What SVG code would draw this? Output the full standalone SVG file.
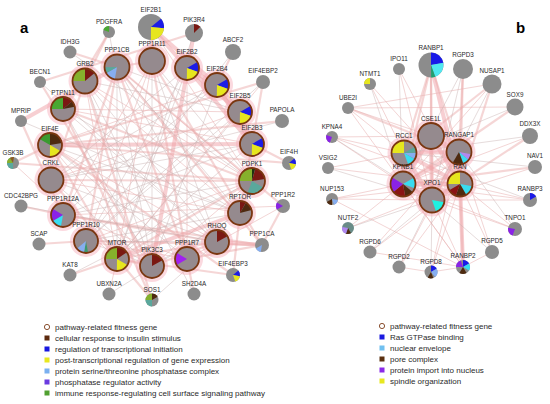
<svg xmlns="http://www.w3.org/2000/svg" width="550" height="404" viewBox="0 0 550 404">
<style>
text{font-family:"Liberation Sans",Arial,sans-serif;fill:#2a2a2a}
.lb{font-size:6.3px;text-anchor:middle}
.lg{font-size:8px}
.pn{font-size:15px;font-weight:bold;fill:#000}
.g{fill:#8c8c8c}
.c{fill:#958a8e}
.ring{fill:none;stroke:#7a3610;stroke-width:1.8}
.glow{fill:#f6aab8;opacity:.45}
.w{fill:none}
.e1{stroke:#eab4b4;stroke-width:1;opacity:.55}
.e2{stroke:#eba6a6;stroke-width:2.2;opacity:.45}
.e3{stroke:#f0a0a6;stroke-width:4;opacity:.5}
.e4{stroke:#c9b2b2;stroke-width:1;opacity:.45}
.lc{fill:#fff;stroke:#8a5030;stroke-width:1}
</style>
<rect width="550" height="404" fill="#fff"/>
<text class="pn" x="20" y="33">a</text>
<text class="pn" x="516" y="33">b</text>
<g id="connectors">
<!-- panel a thick -->
<line class="e3" x1="151" y1="27" x2="187" y2="68"/>
<line class="e3" x1="151" y1="27" x2="217" y2="85"/>
<line class="e3" x1="187" y1="68" x2="217" y2="85"/>
<line class="e3" x1="217" y1="85" x2="240" y2="112"/>
<line class="e3" x1="240" y1="112" x2="252" y2="144"/>
<line class="e3" x1="187" y1="68" x2="240" y2="112"/>
<line class="e3" x1="217" y1="85" x2="252" y2="144"/>
<line class="e3" x1="151" y1="27" x2="152" y2="61"/>
<line class="e3" x1="187" y1="68" x2="252" y2="144"/>
<line class="e3" x1="194" y1="33" x2="152" y2="266"/>
<line class="e3" x1="217" y1="242" x2="262" y2="245"/>
<line class="e3" x1="117" y1="259" x2="240" y2="213"/>
<line class="e3" x1="50" y1="145" x2="252" y2="144"/>
<line class="e3" x1="21" y1="121" x2="117" y2="67"/>
<!-- panel a medium -->
<line class="e2" x1="117" y1="67" x2="63" y2="215"/>
<line class="e2" x1="117" y1="67" x2="86" y2="241"/>
<line class="e2" x1="117" y1="67" x2="187" y2="259"/>
<line class="e2" x1="117" y1="67" x2="152" y2="61"/>
<line class="e2" x1="117" y1="67" x2="283" y2="206"/>
<line class="e2" x1="117" y1="67" x2="262" y2="245"/>
<line class="e2" x1="262" y1="245" x2="63" y2="215"/>
<line class="e2" x1="262" y1="245" x2="86" y2="241"/>
<line class="e2" x1="262" y1="245" x2="187" y2="259"/>
<line class="e2" x1="262" y1="245" x2="283" y2="206"/>
<line class="e2" x1="262" y1="245" x2="152" y2="61"/>
<line class="e2" x1="152" y1="61" x2="187" y2="259"/>
<line class="e2" x1="85" y1="81" x2="63" y2="109"/>
<line class="e2" x1="85" y1="81" x2="152" y2="300"/>
<line class="e2" x1="85" y1="81" x2="51" y2="180"/>
<line class="e2" x1="85" y1="81" x2="109" y2="32"/>
<line class="e2" x1="63" y1="109" x2="109" y2="32"/>
<line class="e2" x1="51" y1="180" x2="152" y2="300"/>
<line class="e2" x1="63" y1="109" x2="152" y2="300"/>
<line class="e2" x1="117" y1="259" x2="152" y2="266"/>
<line class="e2" x1="117" y1="259" x2="217" y2="242"/>
<line class="e2" x1="117" y1="259" x2="50" y2="145"/>
<line class="e2" x1="117" y1="259" x2="252" y2="181"/>
<line class="e2" x1="240" y1="213" x2="252" y2="181"/>
<line class="e2" x1="240" y1="213" x2="233" y2="275"/>
<line class="e2" x1="117" y1="259" x2="233" y2="275"/>
<line class="e2" x1="50" y1="145" x2="263" y2="82"/>
<line class="e2" x1="50" y1="145" x2="233" y2="275"/>
<line class="e2" x1="240" y1="213" x2="263" y2="82"/>
<line class="e2" x1="40" y1="82" x2="152" y2="266"/>
<line class="e2" x1="40" y1="82" x2="194" y2="33"/>
<line class="e2" x1="21" y1="121" x2="63" y2="215"/>
<line class="e2" x1="21" y1="206" x2="63" y2="215"/>
<line class="e2" x1="39" y1="244" x2="86" y2="241"/>
<line class="e2" x1="70" y1="275" x2="117" y2="259"/>
<line class="e2" x1="194" y1="294" x2="187" y2="259"/>
<line class="e2" x1="13" y1="163" x2="50" y2="145"/>
<line class="e2" x1="13" y1="163" x2="252" y2="181"/>
<line class="e2" x1="289" y1="163" x2="50" y2="145"/>
<line class="e2" x1="289" y1="163" x2="252" y2="144"/>
<line class="e2" x1="282" y1="121" x2="50" y2="145"/>
<line class="e2" x1="233" y1="52" x2="217" y2="85"/>
<line class="e2" x1="70" y1="52" x2="117" y2="67"/>
<line class="e2" x1="252" y1="181" x2="63" y2="109"/>
<line class="e2" x1="152" y1="266" x2="217" y2="242"/>
<line class="e2" x1="51" y1="180" x2="252" y2="181"/>
<line class="e2" x1="63" y1="215" x2="217" y2="242"/>
<!-- panel a thin -->
<line class="e1" x1="252" y1="181" x2="85" y2="81"/>
<line class="e1" x1="217" y1="242" x2="50" y2="145"/>
<line class="e1" x1="152" y1="266" x2="252" y2="181"/>
<line class="e1" x1="152" y1="61" x2="117" y2="259"/>
<line class="e1" x1="63" y1="109" x2="252" y2="144"/>
<line class="e1" x1="51" y1="180" x2="240" y2="213"/>
<line class="e1" x1="86" y1="241" x2="252" y2="181"/>
<line class="e1" x1="187" y1="68" x2="187" y2="259"/>
<line class="e1" x1="13" y1="163" x2="117" y2="259"/>
<line class="e1" x1="109" y1="294" x2="117" y2="259"/>
<line class="e1" x1="85" y1="81" x2="240" y2="213"/>
<line class="e1" x1="63" y1="109" x2="240" y2="112"/>
<line class="e1" x1="152" y1="61" x2="63" y2="215"/>
<line class="e1" x1="152" y1="61" x2="86" y2="241"/>
<line class="e1" x1="86" y1="241" x2="187" y2="259"/>
<line class="e1" x1="63" y1="215" x2="187" y2="259"/>
<line class="e1" x1="283" y1="206" x2="187" y2="259"/>
<line class="e1" x1="283" y1="206" x2="63" y2="215"/>
<line class="e1" x1="117" y1="67" x2="252" y2="181"/>
<line class="e1" x1="217" y1="85" x2="50" y2="145"/>
<line class="e1" x1="240" y1="112" x2="51" y2="180"/>
<line class="e1" x1="50" y1="145" x2="152" y2="266"/>
<line class="e1" x1="85" y1="81" x2="117" y2="259"/>
<line class="e1" x1="263" y1="82" x2="117" y2="259"/>
<line class="e1" x1="151" y1="27" x2="252" y2="181"/>
<!-- panel a faint gray -->
<line class="e4" x1="152" y1="61" x2="252" y2="181"/>
<line class="e4" x1="152" y1="61" x2="217" y2="242"/>
<line class="e4" x1="152" y1="61" x2="152" y2="266"/>
<line class="e4" x1="117" y1="67" x2="240" y2="213"/>
<line class="e4" x1="117" y1="67" x2="217" y2="242"/>
<line class="e4" x1="117" y1="67" x2="117" y2="259"/>
<line class="e4" x1="117" y1="67" x2="240" y2="112"/>
<line class="e4" x1="187" y1="68" x2="117" y2="259"/>
<line class="e4" x1="187" y1="68" x2="86" y2="241"/>
<line class="e4" x1="187" y1="68" x2="51" y2="180"/>
<line class="e4" x1="85" y1="81" x2="217" y2="242"/>
<line class="e4" x1="85" y1="81" x2="152" y2="266"/>
<line class="e4" x1="85" y1="81" x2="240" y2="112"/>
<line class="e4" x1="217" y1="85" x2="63" y2="215"/>
<line class="e4" x1="217" y1="85" x2="152" y2="266"/>
<line class="e4" x1="217" y1="85" x2="51" y2="180"/>
<line class="e4" x1="63" y1="109" x2="240" y2="213"/>
<line class="e4" x1="63" y1="109" x2="217" y2="242"/>
<line class="e4" x1="63" y1="109" x2="152" y2="266"/>
<line class="e4" x1="240" y1="112" x2="86" y2="241"/>
<line class="e4" x1="240" y1="112" x2="117" y2="259"/>
<line class="e4" x1="50" y1="145" x2="240" y2="213"/>
<line class="e4" x1="50" y1="145" x2="187" y2="259"/>
<line class="e4" x1="252" y1="144" x2="63" y2="215"/>
<line class="e4" x1="252" y1="144" x2="117" y2="259"/>
<line class="e4" x1="252" y1="144" x2="51" y2="180"/>
<line class="e4" x1="51" y1="180" x2="217" y2="242"/>
<line class="e4" x1="51" y1="180" x2="152" y2="266"/>
<line class="e4" x1="252" y1="181" x2="63" y2="215"/>
<line class="e4" x1="63" y1="215" x2="152" y2="266"/>
<line class="e4" x1="240" y1="213" x2="86" y2="241"/>
<line class="e4" x1="240" y1="213" x2="152" y2="266"/>
<line class="e4" x1="86" y1="241" x2="217" y2="242"/>
<line class="e4" x1="86" y1="241" x2="152" y2="266"/>
<line class="e4" x1="70" y1="52" x2="252" y2="181"/>
<line class="e4" x1="40" y1="82" x2="217" y2="242"/>
<line class="e4" x1="21" y1="121" x2="240" y2="213"/>
<line class="e4" x1="21" y1="206" x2="217" y2="242"/>
<line class="e4" x1="282" y1="121" x2="51" y2="180"/>
<line class="e4" x1="263" y1="82" x2="86" y2="241"/>
<line class="e4" x1="233" y1="52" x2="86" y2="241"/>
<line class="e4" x1="109" y1="32" x2="152" y2="266"/>
<line class="e4" x1="194" y1="33" x2="117" y2="259"/>
<line class="e4" x1="70" y1="275" x2="252" y2="181"/>
<line class="e4" x1="109" y1="294" x2="240" y2="213"/>
<line class="e4" x1="194" y1="294" x2="85" y2="81"/>
<line class="e4" x1="152" y1="300" x2="217" y2="242"/>
<!-- panel b thick -->
<line class="e3" x1="431" y1="136" x2="404" y2="153"/>
<line class="e3" x1="431" y1="136" x2="459" y2="152"/>
<line class="e3" x1="431" y1="136" x2="403" y2="184"/>
<line class="e3" x1="431" y1="136" x2="460" y2="184"/>
<line class="e3" x1="431" y1="136" x2="432" y2="200"/>
<line class="e3" x1="404" y1="153" x2="459" y2="152"/>
<line class="e3" x1="404" y1="153" x2="403" y2="184"/>
<line class="e3" x1="404" y1="153" x2="460" y2="184"/>
<line class="e3" x1="404" y1="153" x2="432" y2="200"/>
<line class="e3" x1="459" y1="152" x2="460" y2="184"/>
<line class="e3" x1="459" y1="152" x2="403" y2="184"/>
<line class="e3" x1="459" y1="152" x2="432" y2="200"/>
<line class="e3" x1="403" y1="184" x2="460" y2="184"/>
<line class="e3" x1="403" y1="184" x2="432" y2="200"/>
<line class="e3" x1="460" y1="184" x2="432" y2="200"/>
<line class="e3" x1="431" y1="65" x2="460" y2="184"/>
<line class="e3" x1="463" y1="267" x2="459" y2="152"/>
<!-- panel b medium/thin -->
<line class="e2" x1="431" y1="65" x2="459" y2="152"/>
<line class="e2" x1="431" y1="65" x2="404" y2="153"/>
<line class="e2" x1="431" y1="65" x2="432" y2="200"/>
<line class="e2" x1="431" y1="65" x2="403" y2="184"/>
<line class="e2" x1="431" y1="65" x2="431" y2="136"/>
<line class="e2" x1="463" y1="69" x2="460" y2="184"/>
<line class="e2" x1="463" y1="69" x2="459" y2="152"/>
<line class="e1" x1="399" y1="69" x2="460" y2="184"/>
<line class="e1" x1="399" y1="69" x2="432" y2="200"/>
<line class="e2" x1="492" y1="84" x2="460" y2="184"/>
<line class="e2" x1="492" y1="84" x2="404" y2="153"/>
<line class="e1" x1="492" y1="84" x2="348" y2="108"/>
<line class="e1" x1="492" y1="84" x2="403" y2="184"/>
<line class="e1" x1="370" y1="84" x2="404" y2="153"/>
<line class="e1" x1="370" y1="84" x2="460" y2="184"/>
<line class="e1" x1="515" y1="107" x2="348" y2="108"/>
<line class="e2" x1="515" y1="107" x2="403" y2="184"/>
<line class="e2" x1="348" y1="108" x2="459" y2="152"/>
<line class="e1" x1="348" y1="108" x2="463" y2="267"/>
<line class="e1" x1="348" y1="108" x2="404" y2="153"/>
<line class="e1" x1="348" y1="108" x2="431" y2="136"/>
<line class="e2" x1="530" y1="136" x2="432" y2="200"/>
<line class="e1" x1="530" y1="136" x2="403" y2="184"/>
<line class="e1" x1="332" y1="137" x2="403" y2="184"/>
<line class="e1" x1="332" y1="137" x2="404" y2="153"/>
<line class="e1" x1="332" y1="137" x2="431" y2="136"/>
<line class="e1" x1="332" y1="137" x2="460" y2="184"/>
<line class="e2" x1="535" y1="167" x2="403" y2="184"/>
<line class="e1" x1="535" y1="167" x2="432" y2="200"/>
<line class="e1" x1="328" y1="168" x2="404" y2="153"/>
<line class="e1" x1="328" y1="168" x2="460" y2="184"/>
<line class="e1" x1="530" y1="200" x2="460" y2="184"/>
<line class="e1" x1="530" y1="200" x2="432" y2="200"/>
<line class="e1" x1="530" y1="200" x2="403" y2="184"/>
<line class="e1" x1="332" y1="199" x2="403" y2="184"/>
<line class="e1" x1="332" y1="199" x2="432" y2="200"/>
<line class="e1" x1="332" y1="199" x2="460" y2="184"/>
<line class="e1" x1="332" y1="199" x2="463" y2="267"/>
<line class="e1" x1="515" y1="229" x2="460" y2="184"/>
<line class="e1" x1="515" y1="229" x2="403" y2="184"/>
<line class="e1" x1="515" y1="229" x2="432" y2="200"/>
<line class="e1" x1="348" y1="228" x2="460" y2="184"/>
<line class="e1" x1="348" y1="228" x2="403" y2="184"/>
<line class="e1" x1="370" y1="252" x2="460" y2="184"/>
<line class="e1" x1="370" y1="252" x2="459" y2="152"/>
<line class="e1" x1="370" y1="252" x2="463" y2="267"/>
<line class="e1" x1="492" y1="252" x2="460" y2="184"/>
<line class="e1" x1="492" y1="252" x2="459" y2="152"/>
<line class="e1" x1="399" y1="267" x2="460" y2="184"/>
<line class="e1" x1="399" y1="267" x2="459" y2="152"/>
<line class="e1" x1="399" y1="267" x2="431" y2="272"/>
<line class="e1" x1="431" y1="272" x2="460" y2="184"/>
<line class="e1" x1="431" y1="272" x2="459" y2="152"/>
<line class="e1" x1="431" y1="272" x2="463" y2="267"/>
<line class="e2" x1="463" y1="267" x2="460" y2="184"/>
<line class="e1" x1="463" y1="267" x2="432" y2="200"/>
<line class="e1" x1="463" y1="267" x2="403" y2="184"/>
<line class="e1" x1="463" y1="267" x2="492" y2="252"/>
<line class="e4" x1="463" y1="69" x2="432" y2="200"/>
<line class="e4" x1="463" y1="69" x2="403" y2="184"/>
<line class="e4" x1="399" y1="69" x2="403" y2="184"/>
<line class="e4" x1="370" y1="84" x2="403" y2="184"/>
<line class="e4" x1="492" y1="84" x2="432" y2="200"/>
<line class="e4" x1="515" y1="107" x2="404" y2="153"/>
<line class="e4" x1="530" y1="136" x2="404" y2="153"/>
<line class="e4" x1="332" y1="137" x2="432" y2="200"/>
<line class="e4" x1="328" y1="168" x2="432" y2="200"/>
<line class="e4" x1="535" y1="167" x2="404" y2="153"/>
<line class="e4" x1="530" y1="200" x2="404" y2="153"/>
<line class="e4" x1="515" y1="229" x2="459" y2="152"/>
<line class="e4" x1="348" y1="228" x2="432" y2="200"/>
<line class="e4" x1="370" y1="252" x2="432" y2="200"/>
<line class="e4" x1="492" y1="252" x2="432" y2="200"/>
<line class="e4" x1="399" y1="267" x2="432" y2="200"/>
<line class="e4" x1="431" y1="272" x2="432" y2="200"/>
</g>
<!-- panel a nodes -->
<g id="EIF2B1" transform="translate(151,27)"><circle class="g" r="13"/><circle class="w" r="6.5" stroke="#1c1ce6" stroke-width="13" pathLength="360" stroke-dasharray="45 360" transform="rotate(-40)"/><circle class="w" r="6.5" stroke="#e6e61e" stroke-width="13" pathLength="360" stroke-dasharray="85 360" transform="rotate(5)"/><text class="lb" y="-15">EIF2B1</text></g>
<g id="PIK3R4" transform="translate(194,33)"><circle class="g" r="9"/><circle class="w" r="4.5" stroke="#7a1812" stroke-width="9" pathLength="360" stroke-dasharray="45 360" transform="rotate(-90)"/><text class="lb" y="-11">PIK3R4</text></g>
<g id="PDGFRA" transform="translate(109,32)"><circle class="g" r="6"/><circle class="w" r="3" stroke="#4aa832" stroke-width="6" pathLength="360" stroke-dasharray="70 360" transform="rotate(200)"/><text class="lb" y="-8">PDGFRA</text></g>
<g id="IDH3G" transform="translate(70,52)"><circle class="g" r="6.5"/><text class="lb" y="-8.5">IDH3G</text></g>
<g id="ABCF2" transform="translate(233,52)"><circle class="g" r="8"/><text class="lb" y="-10">ABCF2</text></g>
<g id="PPP1R11" transform="translate(152,61)"><circle class="glow" r="17"/><circle class="c" r="13"/><circle class="ring" r="13"/><text class="lb" y="-15.5">PPP1R11</text></g>
<g id="PPP1CB" transform="translate(117,67)"><circle class="glow" r="16.5"/><circle class="c" r="12.5"/><circle class="w" r="6.25" stroke="#86aef0" stroke-width="12.5" pathLength="360" stroke-dasharray="50 360" transform="rotate(100)"/><circle class="w" r="6.25" stroke="#5aa89c" stroke-width="12.5" pathLength="360" stroke-dasharray="30 360" transform="rotate(150)"/><circle class="ring" r="12.5"/><text class="lb" y="-15">PPP1CB</text></g>
<g id="EIF2B2" transform="translate(187,68)"><circle class="glow" r="16"/><circle class="c" r="12"/><circle class="w" r="6" stroke="#1c1ce6" stroke-width="12" pathLength="360" stroke-dasharray="50 360" transform="rotate(-30)"/><circle class="w" r="6" stroke="#e6e61e" stroke-width="12" pathLength="360" stroke-dasharray="70 360" transform="rotate(20)"/><circle class="ring" r="12"/><text class="lb" y="-14.5">EIF2B2</text></g>
<g id="GRB2" transform="translate(85,81)"><circle class="glow" r="16.5"/><circle class="c" r="12.5"/><circle class="w" r="6.25" stroke="#86b02c" stroke-width="12.5" pathLength="360" stroke-dasharray="90 360" transform="rotate(180)"/><circle class="w" r="6.25" stroke="#7a1812" stroke-width="12.5" pathLength="360" stroke-dasharray="50 360" transform="rotate(-90)"/><circle class="ring" r="12.5"/><text class="lb" y="-15">GRB2</text></g>
<g id="EIF2B4" transform="translate(217,85)"><circle class="glow" r="16"/><circle class="c" r="12"/><circle class="w" r="6" stroke="#1c1ce6" stroke-width="12" pathLength="360" stroke-dasharray="50 360" transform="rotate(-30)"/><circle class="w" r="6" stroke="#e6e61e" stroke-width="12" pathLength="360" stroke-dasharray="70 360" transform="rotate(20)"/><circle class="ring" r="12"/><text class="lb" y="-14.5">EIF2B4</text></g>
<g id="BECN1" transform="translate(40,82)"><circle class="g" r="6"/><text class="lb" y="-8">BECN1</text></g>
<g id="EIF4EBP2" transform="translate(263,82)"><circle class="g" r="7"/><text class="lb" y="-9">EIF4EBP2</text></g>
<g id="PTPN11" transform="translate(63,109)"><circle class="glow" r="16"/><circle class="c" r="12"/><circle class="w" r="6" stroke="#4aa832" stroke-width="12" pathLength="360" stroke-dasharray="90 360" transform="rotate(180)"/><circle class="w" r="6" stroke="#7a1812" stroke-width="12" pathLength="360" stroke-dasharray="50 360" transform="rotate(-90)"/><circle class="w" r="6" stroke="#4e2a10" stroke-width="12" pathLength="360" stroke-dasharray="30 360" transform="rotate(-40)"/><circle class="ring" r="12"/><text class="lb" y="-14.5">PTPN11</text></g>
<g id="EIF2B5" transform="translate(240,112)"><circle class="glow" r="16"/><circle class="c" r="12"/><circle class="w" r="6" stroke="#1c1ce6" stroke-width="12" pathLength="360" stroke-dasharray="50 360" transform="rotate(-30)"/><circle class="w" r="6" stroke="#e6e61e" stroke-width="12" pathLength="360" stroke-dasharray="70 360" transform="rotate(20)"/><circle class="ring" r="12"/><text class="lb" y="-14.5">EIF2B5</text></g>
<g id="MPRIP" transform="translate(21,121)"><circle class="g" r="6"/><text class="lb" y="-8">MPRIP</text></g>
<g id="PAPOLA" transform="translate(282,121)"><circle class="g" r="7"/><text class="lb" y="-9">PAPOLA</text></g>
<g id="EIF4E" transform="translate(50,145)"><circle class="glow" r="16"/><circle class="c" r="12"/><circle class="w" r="6" stroke="#3a9a30" stroke-width="12" pathLength="360" stroke-dasharray="60 360" transform="rotate(210)"/><circle class="w" r="6" stroke="#4e2a10" stroke-width="12" pathLength="360" stroke-dasharray="80 360" transform="rotate(-90)"/><circle class="w" r="6" stroke="#e6e61e" stroke-width="12" pathLength="360" stroke-dasharray="60 360" transform="rotate(30)"/><circle class="ring" r="12"/><text class="lb" y="-14.5">EIF4E</text></g>
<g id="EIF2B3" transform="translate(252,144)"><circle class="glow" r="16"/><circle class="c" r="12"/><circle class="w" r="6" stroke="#1c1ce6" stroke-width="12" pathLength="360" stroke-dasharray="50 360" transform="rotate(-30)"/><circle class="w" r="6" stroke="#e6e61e" stroke-width="12" pathLength="360" stroke-dasharray="70 360" transform="rotate(20)"/><circle class="ring" r="12"/><text class="lb" y="-14.5">EIF2B3</text></g>
<g id="GSK3B" transform="translate(13,163)"><circle class="g" r="6"/><circle class="w" r="3" stroke="#5aa89c" stroke-width="6" pathLength="360" stroke-dasharray="90 360" transform="rotate(90)"/><circle class="w" r="3" stroke="#86b02c" stroke-width="6" pathLength="360" stroke-dasharray="60 360" transform="rotate(180)"/><circle class="w" r="3" stroke="#8a5a20" stroke-width="6" pathLength="360" stroke-dasharray="40 360" transform="rotate(240)"/><text class="lb" y="-8">GSK3B</text></g>
<g id="CRKL" transform="translate(51,180)"><circle class="glow" r="16.5"/><circle class="c" r="12.5"/><circle class="ring" r="12.5"/><text class="lb" y="-15">CRKL</text></g>
<g id="EIF4H" transform="translate(289,163)"><circle class="g" r="7"/><circle class="w" r="3.5" stroke="#1c1ce6" stroke-width="7" pathLength="360" stroke-dasharray="50 360" transform="rotate(-40)"/><circle class="w" r="3.5" stroke="#e6e61e" stroke-width="7" pathLength="360" stroke-dasharray="60 360" transform="rotate(10)"/><text class="lb" y="-9">EIF4H</text></g>
<g id="PDPK1" transform="translate(252,181)"><circle class="glow" r="17"/><circle class="c" r="13"/><circle class="w" r="6.5" stroke="#86b02c" stroke-width="13" pathLength="360" stroke-dasharray="90 360" transform="rotate(180)"/><circle class="w" r="6.5" stroke="#203010" stroke-width="13" pathLength="360" stroke-dasharray="15 360" transform="rotate(-90)"/><circle class="w" r="6.5" stroke="#7a1812" stroke-width="13" pathLength="360" stroke-dasharray="65 360" transform="rotate(-75)"/><circle class="w" r="6.5" stroke="#5aa89c" stroke-width="13" pathLength="360" stroke-dasharray="80 360" transform="rotate(30)"/><circle class="ring" r="13"/><text class="lb" y="-15.5">PDPK1</text></g>
<g id="CDC42BPG" transform="translate(21,206)"><circle class="g" r="6.5"/><text class="lb" y="-8.5">CDC42BPG</text></g>
<g id="PPP1R12A" transform="translate(63,215)"><circle class="glow" r="16"/><circle class="c" r="12"/><circle class="w" r="6" stroke="#38dcf0" stroke-width="12" pathLength="360" stroke-dasharray="50 360" transform="rotate(100)"/><circle class="w" r="6" stroke="#8a22e6" stroke-width="12" pathLength="360" stroke-dasharray="60 360" transform="rotate(150)"/><circle class="ring" r="12"/><text class="lb" y="-14.5">PPP1R12A</text></g>
<g id="RPTOR" transform="translate(240,213)"><circle class="glow" r="16"/><circle class="c" r="12"/><circle class="w" r="6" stroke="#7a1812" stroke-width="12" pathLength="360" stroke-dasharray="30 360" transform="rotate(-90)"/><circle class="w" r="6" stroke="#4e2a10" stroke-width="12" pathLength="360" stroke-dasharray="45 360" transform="rotate(-60)"/><circle class="ring" r="12"/><text class="lb" y="-14.5">RPTOR</text></g>
<g id="PPP1R2" transform="translate(283,206)"><circle class="g" r="7"/><circle class="w" r="3.5" stroke="#8a22e6" stroke-width="7" pathLength="360" stroke-dasharray="60 360" transform="rotate(150)"/><text class="lb" y="-9">PPP1R2</text></g>
<g id="SCAP" transform="translate(39,244)"><circle class="g" r="6.5"/><text class="lb" y="-8.5">SCAP</text></g>
<g id="PPP1R10" transform="translate(86,241)"><circle class="glow" r="16"/><circle class="c" r="12"/><circle class="w" r="6" stroke="#3a9a70" stroke-width="12" pathLength="360" stroke-dasharray="20 360" transform="rotate(80)"/><circle class="w" r="6" stroke="#86aef0" stroke-width="12" pathLength="360" stroke-dasharray="40 360" transform="rotate(100)"/><circle class="ring" r="12"/><text class="lb" y="-14.5">PPP1R10</text></g>
<g id="RHOQ" transform="translate(217,242)"><circle class="glow" r="16"/><circle class="c" r="12"/><circle class="w" r="6" stroke="#7a1812" stroke-width="12" pathLength="360" stroke-dasharray="60 360" transform="rotate(-90)"/><circle class="ring" r="12"/><text class="lb" y="-14.5">RHOQ</text></g>
<g id="PPP1CA" transform="translate(262,245)"><circle class="g" r="7"/><circle class="w" r="3.5" stroke="#86aef0" stroke-width="7" pathLength="360" stroke-dasharray="50 360" transform="rotate(100)"/><text class="lb" y="-9">PPP1CA</text></g>
<g id="MTOR" transform="translate(117,259)"><circle class="glow" r="16"/><circle class="c" r="12"/><circle class="w" r="6" stroke="#86b02c" stroke-width="12" pathLength="360" stroke-dasharray="90 360" transform="rotate(180)"/><circle class="w" r="6" stroke="#7a1812" stroke-width="12" pathLength="360" stroke-dasharray="55 360" transform="rotate(-90)"/><circle class="w" r="6" stroke="#e6e61e" stroke-width="12" pathLength="360" stroke-dasharray="60 360" transform="rotate(30)"/><circle class="ring" r="12"/><text class="lb" y="-14.5">MTOR</text></g>
<g id="PIK3C3" transform="translate(152,266)"><circle class="glow" r="16"/><circle class="c" r="12"/><circle class="w" r="6" stroke="#7a1812" stroke-width="12" pathLength="360" stroke-dasharray="60 360" transform="rotate(-90)"/><circle class="ring" r="12"/><text class="lb" y="-14.5">PIK3C3</text></g>
<g id="PPP1R7" transform="translate(187,259)"><circle class="glow" r="16"/><circle class="c" r="12"/><circle class="w" r="6" stroke="#a020f0" stroke-width="12" pathLength="360" stroke-dasharray="60 360" transform="rotate(150)"/><circle class="ring" r="12"/><text class="lb" y="-14.5">PPP1R7</text></g>
<g id="KAT8" transform="translate(70,275)"><circle class="g" r="6.5"/><text class="lb" y="-8.5">KAT8</text></g>
<g id="EIF4EBP3" transform="translate(233,275)"><circle class="g" r="7"/><circle class="w" r="3.5" stroke="#1c1ce6" stroke-width="7" pathLength="360" stroke-dasharray="50 360" transform="rotate(-40)"/><circle class="w" r="3.5" stroke="#e6e61e" stroke-width="7" pathLength="360" stroke-dasharray="60 360" transform="rotate(10)"/><text class="lb" y="-9">EIF4EBP3</text></g>
<g id="UBXN2A" transform="translate(109,294)"><circle class="g" r="6.5"/><text class="lb" y="-8.5">UBXN2A</text></g>
<g id="SOS1" transform="translate(152,300)"><circle class="g" r="6.5"/><circle class="w" r="3.25" stroke="#5aa89c" stroke-width="6.5" pathLength="360" stroke-dasharray="90 360" transform="rotate(90)"/><circle class="w" r="3.25" stroke="#86b02c" stroke-width="6.5" pathLength="360" stroke-dasharray="90 360" transform="rotate(180)"/><circle class="w" r="3.25" stroke="#4e2a10" stroke-width="6.5" pathLength="360" stroke-dasharray="60 360" transform="rotate(-90)"/><text class="lb" y="-8.5">SOS1</text></g>
<g id="SH2D4A" transform="translate(194,294)"><circle class="g" r="6.5"/><text class="lb" y="-8.5">SH2D4A</text></g>
<!-- panel b nodes -->
<g id="RANBP1" transform="translate(431,65)"><circle class="g" r="12.5"/><circle class="w" r="6.25" stroke="#1a1ae8" stroke-width="12.5" pathLength="360" stroke-dasharray="80 360" transform="rotate(-90)"/><circle class="w" r="6.25" stroke="#50e8f0" stroke-width="12.5" pathLength="360" stroke-dasharray="80 360" transform="rotate(-10)"/><circle class="w" r="6.25" stroke="#20a070" stroke-width="12.5" pathLength="360" stroke-dasharray="20 360" transform="rotate(70)"/><text class="lb" y="-15">RANBP1</text></g>
<g id="RGPD3" transform="translate(463,69)"><circle class="g" r="10"/><text class="lb" y="-12">RGPD3</text></g>
<g id="IPO11" transform="translate(399,69)"><circle class="g" r="6"/><text class="lb" y="-8">IPO11</text></g>
<g id="NUSAP1" transform="translate(492,84)"><circle class="g" r="9.5"/><text class="lb" y="-11.5">NUSAP1</text></g>
<g id="NTMT1" transform="translate(370,84)"><circle class="g" r="6"/><circle class="w" r="3" stroke="#e6e61e" stroke-width="6" pathLength="360" stroke-dasharray="90 360" transform="rotate(180)"/><text class="lb" y="-8">NTMT1</text></g>
<g id="SOX9" transform="translate(515,107)"><circle class="g" r="8.5"/><text class="lb" y="-10.5">SOX9</text></g>
<g id="UBE2I" transform="translate(348,108)"><circle class="g" r="6"/><text class="lb" y="-8">UBE2I</text></g>
<g id="DDX3X" transform="translate(530,136)"><circle class="g" r="8"/><text class="lb" y="-10">DDX3X</text></g>
<g id="KPNA4" transform="translate(332,137)"><circle class="g" r="6"/><circle class="w" r="3" stroke="#8a22e6" stroke-width="6" pathLength="360" stroke-dasharray="90 360" transform="rotate(110)"/><text class="lb" y="-8">KPNA4</text></g>
<g id="CSE1L" transform="translate(431,136)"><circle class="glow" r="17"/><circle class="c" r="13"/><circle class="ring" r="13"/><text class="lb" y="-15.5">CSE1L</text></g>
<g id="RCC1" transform="translate(404,153)"><circle class="glow" r="16.5"/><circle class="c" r="12.5"/><circle class="w" r="6.25" stroke="#e6e61e" stroke-width="12.5" pathLength="360" stroke-dasharray="90 360" transform="rotate(180)"/><circle class="w" r="6.25" stroke="#5aa89c" stroke-width="12.5" pathLength="360" stroke-dasharray="30 360" transform="rotate(-30)"/><circle class="w" r="6.25" stroke="#86aef0" stroke-width="12.5" pathLength="360" stroke-dasharray="30 360" transform="rotate(0)"/><circle class="w" r="6.25" stroke="#38dcf0" stroke-width="12.5" pathLength="360" stroke-dasharray="40 360" transform="rotate(30)"/><circle class="ring" r="12.5"/><text class="lb" y="-15">RCC1</text></g>
<g id="RANGAP1" transform="translate(459,152)"><circle class="glow" r="16.5"/><circle class="c" r="12.5"/><circle class="w" r="6.25" stroke="#b088f0" stroke-width="12.5" pathLength="360" stroke-dasharray="30 360" transform="rotate(10)"/><circle class="w" r="6.25" stroke="#38dcf0" stroke-width="12.5" pathLength="360" stroke-dasharray="30 360" transform="rotate(40)"/><circle class="w" r="6.25" stroke="#4e2a10" stroke-width="12.5" pathLength="360" stroke-dasharray="50 360" transform="rotate(70)"/><circle class="ring" r="12.5"/><text class="lb" y="-15">RANGAP1</text></g>
<g id="NAV1" transform="translate(535,167)"><circle class="g" r="7"/><text class="lb" y="-9">NAV1</text></g>
<g id="VSIG2" transform="translate(328,168)"><circle class="g" r="6"/><text class="lb" y="-8">VSIG2</text></g>
<g id="KPNB1" transform="translate(403,184)"><circle class="glow" r="16.5"/><circle class="c" r="12.5"/><circle class="w" r="6.25" stroke="#38dcf0" stroke-width="12.5" pathLength="360" stroke-dasharray="50 360" transform="rotate(-30)"/><circle class="w" r="6.25" stroke="#4e2a10" stroke-width="12.5" pathLength="360" stroke-dasharray="40 360" transform="rotate(40)"/><circle class="w" r="6.25" stroke="#8a1414" stroke-width="12.5" pathLength="360" stroke-dasharray="60 360" transform="rotate(80)"/><circle class="w" r="6.25" stroke="#8a22e6" stroke-width="12.5" pathLength="360" stroke-dasharray="70 360" transform="rotate(140)"/><circle class="ring" r="12.5"/><text class="lb" y="-15">KPNB1</text></g>
<g id="RAN" transform="translate(460,184)"><circle class="glow" r="16.5"/><circle class="c" r="12.5"/><circle class="w" r="6.25" stroke="#e6e61e" stroke-width="12.5" pathLength="360" stroke-dasharray="90 360" transform="rotate(180)"/><circle class="w" r="6.25" stroke="#38dcf0" stroke-width="12.5" pathLength="360" stroke-dasharray="50 360" transform="rotate(10)"/><circle class="w" r="6.25" stroke="#4e2a10" stroke-width="12.5" pathLength="360" stroke-dasharray="50 360" transform="rotate(60)"/><circle class="w" r="6.25" stroke="#8a1414" stroke-width="12.5" pathLength="360" stroke-dasharray="40 360" transform="rotate(110)"/><circle class="ring" r="12.5"/><text class="lb" y="-15">RAN</text></g>
<g id="XPO1" transform="translate(432,200)"><circle class="glow" r="16.5"/><circle class="c" r="12.5"/><circle class="w" r="6.25" stroke="#20f0e0" stroke-width="12.5" pathLength="360" stroke-dasharray="60 360" transform="rotate(10)"/><circle class="ring" r="12.5"/><text class="lb" y="-15">XPO1</text></g>
<g id="RANBP3" transform="translate(530,200)"><circle class="g" r="7"/><circle class="w" r="3.5" stroke="#1a1ae8" stroke-width="7" pathLength="360" stroke-dasharray="60 360" transform="rotate(-90)"/><text class="lb" y="-9">RANBP3</text></g>
<g id="NUP153" transform="translate(332,199)"><circle class="g" r="6"/><circle class="w" r="3" stroke="#86aef0" stroke-width="6" pathLength="360" stroke-dasharray="60 360" transform="rotate(10)"/><circle class="w" r="3" stroke="#4e2a10" stroke-width="6" pathLength="360" stroke-dasharray="60 360" transform="rotate(90)"/><text class="lb" y="-8">NUP153</text></g>
<g id="TNPO1" transform="translate(515,229)"><circle class="g" r="7"/><circle class="w" r="3.5" stroke="#8a22e6" stroke-width="7" pathLength="360" stroke-dasharray="80 360" transform="rotate(110)"/><text class="lb" y="-9">TNPO1</text></g>
<g id="NUTF2" transform="translate(348,228)"><circle r="6" fill="#6a8c88"/><circle class="w" r="3" stroke="#4e2a10" stroke-width="6" pathLength="360" stroke-dasharray="50 360" transform="rotate(60)"/><circle class="w" r="3" stroke="#b088f0" stroke-width="6" pathLength="360" stroke-dasharray="80 360" transform="rotate(110)"/><text class="lb" y="-8">NUTF2</text></g>
<g id="RGPD6" transform="translate(370,252)"><circle class="g" r="6.5"/><text class="lb" y="-8.5">RGPD6</text></g>
<g id="RGPD5" transform="translate(492,252)"><circle class="g" r="7"/><text class="lb" y="-9">RGPD5</text></g>
<g id="RGPD2" transform="translate(399,267)"><circle class="g" r="6.5"/><text class="lb" y="-8.5">RGPD2</text></g>
<g id="RGPD8" transform="translate(431,272)"><circle class="g" r="6.5"/><circle class="w" r="3.25" stroke="#1a1ae8" stroke-width="6.5" pathLength="360" stroke-dasharray="60 360" transform="rotate(-90)"/><circle class="w" r="3.25" stroke="#86aef0" stroke-width="6.5" pathLength="360" stroke-dasharray="80 360" transform="rotate(-30)"/><circle class="w" r="3.25" stroke="#4e2a10" stroke-width="6.5" pathLength="360" stroke-dasharray="50 360" transform="rotate(70)"/><text class="lb" y="-8.5">RGPD8</text></g>
<g id="RANBP2" transform="translate(463,267)"><circle class="g" r="7"/><circle class="w" r="3.5" stroke="#1a1ae8" stroke-width="7" pathLength="360" stroke-dasharray="60 360" transform="rotate(-90)"/><circle class="w" r="3.5" stroke="#38dcf0" stroke-width="7" pathLength="360" stroke-dasharray="60 360" transform="rotate(-30)"/><circle class="w" r="3.5" stroke="#4e2a10" stroke-width="7" pathLength="360" stroke-dasharray="60 360" transform="rotate(60)"/><circle class="w" r="3.5" stroke="#8a22e6" stroke-width="7" pathLength="360" stroke-dasharray="70 360" transform="rotate(180)"/><text class="lb" y="-9">RANBP2</text></g>
<!-- legends -->
<g id="legend-a">
<circle class="lc" cx="47" cy="327" r="2.6"/><text class="lg" x="55" y="330">pathway-related fitness gene</text>
<rect x="44.5" y="335.5" width="5" height="5" fill="#5c2a0e"/><text class="lg" x="55" y="341">cellular response to insulin stimulus</text>
<rect x="44.5" y="346.5" width="5" height="5" fill="#1818e0"/><text class="lg" x="55" y="352">regulation of transcriptional initiation</text>
<rect x="44.5" y="357.5" width="5" height="5" fill="#e8e820"/><text class="lg" x="55" y="363">post-transcriptional regulation of gene expression</text>
<rect x="44.5" y="368.5" width="5" height="5" fill="#7ab0f0"/><text class="lg" x="55" y="374">protein serine/threonine phosphatase complex</text>
<rect x="44.5" y="379.5" width="5" height="5" fill="#6a3ae0"/><text class="lg" x="55" y="385">phosphatase regulator activity</text>
<rect x="44.5" y="390.5" width="5" height="5" fill="#50a030"/><text class="lg" x="55" y="396">immune response-regulating cell surface signaling pathway</text>
</g>
<g id="legend-b">
<circle class="lc" cx="382" cy="326" r="2.6"/><text class="lg" x="390" y="329">pathway-related fitness gene</text>
<rect x="379.5" y="334.5" width="5" height="5" fill="#1a1ae0"/><text class="lg" x="390" y="340">Ras GTPase binding</text>
<rect x="379.5" y="345.5" width="5" height="5" fill="#70c0f0"/><text class="lg" x="390" y="351">nuclear envelope</text>
<rect x="379.5" y="356.5" width="5" height="5" fill="#5a3010"/><text class="lg" x="390" y="362">pore complex</text>
<rect x="379.5" y="367.5" width="5" height="5" fill="#8a2ae8"/><text class="lg" x="390" y="373">protein import into nucleus</text>
<rect x="379.5" y="378.5" width="5" height="5" fill="#e8e820"/><text class="lg" x="390" y="384">spindle organization</text>
</g>
</svg>
